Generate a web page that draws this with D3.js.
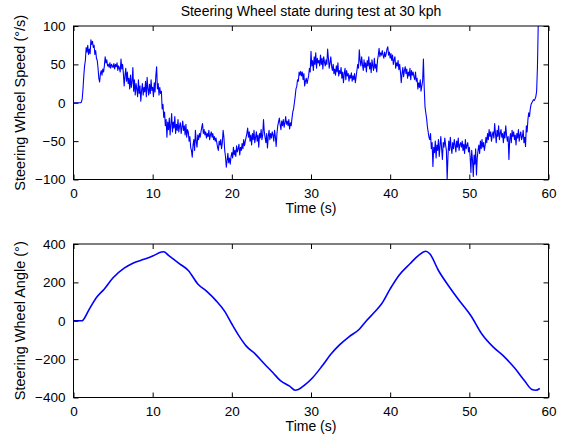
<!DOCTYPE html>
<html>
<head>
<meta charset="utf-8">
<script src="https://cdn.jsdelivr.net/npm/d3@7"></script>
<style>
  body { margin: 0; background: #fff; }
  svg text { font-family: "Liberation Sans", Arial, sans-serif; fill: #000; }
</style>
</head>
<body>
<svg id="chart" width="563" height="439"></svg>
<script>
// steering wheel speed (deg/s), sampled every 0.1 s from t = 0
var speedStep = 0.1;
var speedValues = [
  0, 0, 0, 0, 0, 0, 0, 0, 0, 0,
  1, 5, 18, 35, 48, 55, 72, 66, 75, 63,
  70, 64, 82, 76, 80, 72, 75, 63, 68, 58,
  55, 45, 32, 27, 38, 42, 36, 44, 40, 48,
  60, 52, 56, 48, 50, 46, 52, 45, 50, 48,
  46, 51, 44, 50, 47, 52, 42, 48, 45, 40,
  57, 44, 50, 38, 22, 35, 45, 28, 40, 25,
  32, 18, 36, 20, 28, 46, 15, 30, 10, 25,
  18, 8, 30, 12, 22, 2, 16, 25, 10, 20,
  14, 28, 8, 33, 18, 10, 24, 12, 30, 16,
  20, 8, 26, 14, 35, 47, 18, 25, 10, 20,
  12, 15, -8, -2, -19, -12, -30, -22, -45, -25,
  -35, -20, -42, -28, -14, -38, -25, -33, -18, -40,
  -28, -36, -22, -38, -30, -26, -40, -32, -24, -36,
  -30, -42, -28, -45, -35, -38, -50, -44, -58, -62,
  -71, -55, -48, -62, -36, -50, -58, -42, -48, -40,
  -45, -38, -32, -27, -40, -35, -42, -38, -46, -40,
  -44, -36, -48, -42, -38, -45, -40, -48, -44, -50,
  -46, -52, -58, -62, -50, -55, -48, -60, -52, -36,
  -45, -62, -70, -84, -75, -66, -78, -72, -80, -70,
  -65, -72, -58, -68, -62, -70, -56, -64, -60, -54,
  -68, -58, -62, -53, -60, -48, -56, -50, -45, -40,
  -33, -45, -38, -50, -42, -55, -40, -48, -36, -52,
  -45, -38, -50, -42, -58, -40, -46, -35, -48, -42,
  -22, -38, -45, -52, -40, -59, -44, -36, -48, -40,
  -46, -38, -42, -50, -36, -44, -57, -40, -30, -25,
  -20, -28, -35, -24, -30, -22, -32, -26, -18, -28,
  -24, -30, -22, -34, -26, -30, -20, -12, -8, 0,
  8, 18, 21, 30, 28, 40, 36, 41, 35, 40,
  30, 38, 22, 28, 32, 25, 30, 35, 45, 40,
  67, 48, 55, 42, 60, 50, 65, 45, 58, 52,
  55, 48, 62, 50, 58, 44, 60, 53, 48, 56,
  50, 70, 58, 45, 52, 60, 48, 42, 50, 38,
  44, 36, 48, 40, 52, 35, 42, 38, 46, 32,
  40, 26, 38, 45, 30, 42, 35, 38, 28, 36,
  32, 39, 28, 35, 30, 38, 26, 34, 42, 50,
  45, 69, 55, 48, 60, 50, 42, 56, 46, 52,
  40, 55, 48, 60, 44, 52, 39, 56, 48, 42,
  58, 45, 50, 40, 55, 62, 71, 60, 65, 62,
  68, 62, 58, 66, 60, 64, 70, 73, 62, 66,
  58, 64, 55, 62, 50, 56, 60, 45, 52, 48,
  55, 43, 50, 40, 26, 38, 46, 34, 42, 47,
  38, 44, 32, 40, 35, 45, 30, 42, 36, 40,
  34, 30, 40, 28, 32, 18, 26, 20, 30, 15,
  22, 28, 57, 20, -5, -13, -20, -31, -38, -45,
  -48, -40, -60, -52, -83, -58, -65, -50, -72, -55,
  -62, -48, -70, -56, -44, -60, -74, -52, -58, -46,
  -55, -62, -100, -70, -50, -62, -45, -58, -66, -52,
  -60, -48, -55, -64, -50, -58, -46, -62, -55, -52,
  -58, -50, -62, -54, -66, -48, -60, -56, -52, -64,
  -58, -70, -91, -62, -75, -96, -68, -80, -60, -94,
  -72, -62, -55, -66, -50, -60, -48, -58, -52, -62,
  -55, -45, -52, -40, -48, -35, -44, -38, -50, -42,
  -38, -46, -27, -40, -52, -36, -44, -30, -48, -40,
  -35, -45, -40, -52, -38, -46, -30, -42, -50, -44,
  -74, -48, -40, -52, -36, -44, -38, -48, -42, -55,
  -40, -46, -35, -50, -42, -38, -48, -44, -36, -52,
  -45, -57, -30, -38, -22, -13, -18, -8, -2, 0,
  2, 4, 3, 5, 8, 15, 45, 100, 130, 160
];

// steering wheel angle (deg)
var angleTimes = [0, 1.1, 1.2, 2, 3, 3.9, 5, 6.4, 7.5, 8.9, 10, 11.1, 11.4, 12, 13.4, 14.5, 15.7, 16.8, 18, 19.1,
  20, 20.9, 21.8, 23, 24.1, 25.2, 26.1, 27.3, 28, 28.4, 29.3, 30.2, 31.4, 32.5, 33.6, 34.8, 36.1, 37, 38, 38.9,
  40, 41.1, 42.5, 43.6, 44.5, 45, 46.1, 47.5, 48.9, 50.2, 51.6, 53, 54.3, 55.7, 57, 57.9, 58.4, 58.9];
var angleValues = [0, 0, 3, 61, 126, 166, 224, 274, 300, 320, 337, 358, 360, 341, 297, 262, 192, 154, 105, 49,
  -17, -79, -131, -175, -224, -271, -311, -341, -362, -358, -332, -297, -236, -175, -126, -84, -44, 0, 44, 87,
  166, 236, 297, 341, 362, 349, 262, 175, 96, 26, -70, -136, -183, -245, -314, -358, -362, -353];

var xTicks = [0, 10, 20, 30, 40, 50, 60];
var speedTicks = [-100, -50, 0, 50, 100];
var angleTicks = [-400, -200, 0, 200, 400];

var svg = d3.select("#chart");
var plotLeft = 73.5, plotRight = 548.5;

function drawPanel(opts) {
  var g = svg.append("g");
  var x = d3.scaleLinear().domain([0, 60]).range([plotLeft, plotRight]);
  var y = d3.scaleLinear().domain(opts.yDomain).range([opts.bottom, opts.top]);

  var clipId = "clip" + opts.id;
  svg.append("clipPath").attr("id", clipId)
    .append("rect")
    .attr("x", plotLeft).attr("y", opts.top)
    .attr("width", plotRight - plotLeft).attr("height", opts.bottom - opts.top);

  var line = d3.line().x(d => x(d[0])).y(d => y(d[1]));
  if (opts.smooth) line.curve(d3.curveMonotoneX);
  g.append("path")
    .datum(opts.data)
    .attr("clip-path", "url(#" + clipId + ")")
    .attr("fill", "none")
    .attr("stroke", "#0000ff")
    .attr("stroke-width", opts.lineWidth)
    .attr("stroke-linejoin", "round")
    .attr("d", line);

  // axes with inward ticks, mirrored on the opposite sides
  var tl = 5;
  var bottomAxis = g.append("g").attr("transform", "translate(0," + opts.bottom + ")")
    .call(d3.axisBottom(x).tickValues(xTicks).tickSizeInner(-tl).tickSizeOuter(0).tickPadding(9));
  var topAxis = g.append("g").attr("transform", "translate(0," + opts.top + ")")
    .call(d3.axisTop(x).tickValues(xTicks).tickSizeInner(-tl).tickSizeOuter(0).tickFormat(""));
  var leftAxis = g.append("g").attr("transform", "translate(" + plotLeft + ",0)")
    .call(d3.axisLeft(y).tickValues(opts.yTicks).tickSizeInner(-tl).tickSizeOuter(0).tickPadding(8)
      .tickFormat(d => d < 0 ? "\u2212" + Math.abs(d) : d));
  var rightAxis = g.append("g").attr("transform", "translate(" + plotRight + ",0)")
    .call(d3.axisRight(y).tickValues(opts.yTicks).tickSizeInner(-tl).tickSizeOuter(0).tickFormat(""));

  [bottomAxis, topAxis, leftAxis, rightAxis].forEach(function (a) {
    a.select(".domain").remove();
    a.selectAll("line").attr("stroke", "#000");
    a.selectAll("text").style("font-size", "13.5px").attr("fill", "#000");
  });

  g.append("rect")
    .attr("x", plotLeft).attr("y", opts.top)
    .attr("width", plotRight - plotLeft).attr("height", opts.bottom - opts.top)
    .attr("fill", "none").attr("stroke", "#000").attr("stroke-width", 1);

  g.append("text")
    .attr("x", (plotLeft + plotRight) / 2)
    .attr("y", opts.bottom + 29)
    .attr("text-anchor", "middle")
    .attr("dy", "0.35em")
    .style("font-size", "14px")
    .text("Time (s)");

  g.append("text")
    .attr("transform", "translate(20," + (opts.top + opts.bottom) / 2 + ") rotate(-90)")
    .attr("text-anchor", "middle")
    .attr("dy", "0.35em")
    .style("font-size", "14.5px")
    .text(opts.yLabel);
}

var speedData = speedValues.map((v, i) => [i * speedStep, v]);
var angleData = angleValues.map((v, i) => [angleTimes[i], v]);

drawPanel({ id: 1, top: 26, bottom: 179.5, yDomain: [-100, 100], yTicks: speedTicks,
  data: speedData, lineWidth: 1.1, yLabel: "Steering Wheel Speed (\u00b0/s)" });
drawPanel({ id: 2, top: 244, bottom: 397.5, yDomain: [-400, 400], yTicks: angleTicks, smooth: true,
  data: angleData, lineWidth: 1.6, yLabel: "Steering Wheel Angle (\u00b0)" });

svg.append("text")
  .attr("x", (plotLeft + plotRight) / 2)
  .attr("y", 11)
  .attr("text-anchor", "middle")
  .attr("dy", "0.35em")
  .style("font-size", "14px")
  .text("Steering Wheel state during test at 30 kph");
</script>
</body>
</html>
